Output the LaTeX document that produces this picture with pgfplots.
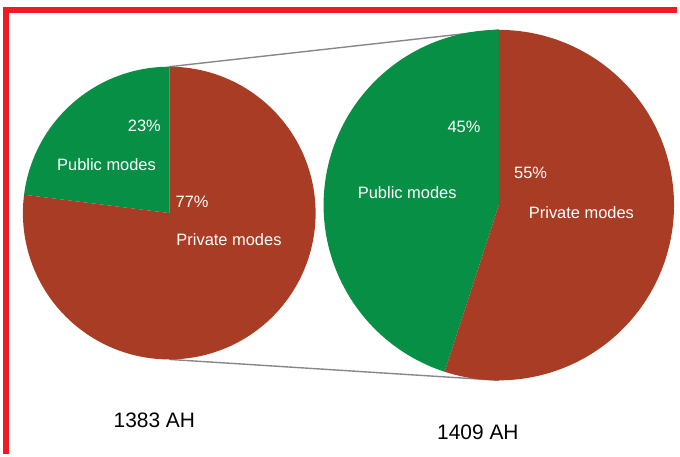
\documentclass[border=0pt]{standalone}
\usepackage{pgfplots}
\pgfplotsset{compat=1.18}
\usepackage{fontspec}
\setmainfont{Liberation Sans}

\definecolor{pubgreen}{RGB}{8,143,70}
\definecolor{privred}{RGB}{168,60,36}
\definecolor{framered}{RGB}{237,28,36}
\definecolor{linkgray}{RGB}{135,135,135}

% share of public modes (percent) in each year
\def\pubA{23}
\def\pubB{45}

\begin{document}
\begin{tikzpicture}[
  lbl/.style={text=white, font=\fontsize{16.5}{18}\selectfont, inner sep=0pt},
  yr/.style={text=black, font=\fontsize{21}{24}\selectfont, inner sep=0pt},
]
\begin{axis}[
  scale only axis, width=680pt, height=456pt,
  xmin=0, xmax=680, ymin=0, ymax=456, y dir=reverse,
  hide axis, clip=false, samples=160,
]
\path (axis cs:0,0) rectangle (axis cs:680,456);

% connecting lines between the two pies
\draw[linkgray, line width=1.4pt] (axis cs:170,67) -- (axis cs:501,30);
\draw[linkgray, line width=1.4pt] (axis cs:170,361) -- (axis cs:501,382);

% 1383 AH pie
\addplot[draw=none, fill=pubgreen, domain=90:{90+3.6*\pubA}]
  ({170+147*cos(x)}, {214-147*sin(x)}) -- (axis cs:170,214) -- cycle;
\addplot[draw=none, fill=privred, domain={90+3.6*\pubA}:450]
  ({170+147*cos(x)}, {214-147*sin(x)}) -- (axis cs:170,214) -- cycle;

% 1409 AH pie
\addplot[draw=none, fill=pubgreen, domain=90:{90+3.6*\pubB}]
  ({501+176*cos(x)}, {206-176*sin(x)}) -- (axis cs:501,206) -- cycle;
\addplot[draw=none, fill=privred, domain={90+3.6*\pubB}:450]
  ({501+176*cos(x)}, {206-176*sin(x)}) -- (axis cs:501,206) -- cycle;

% slice labels
\node[lbl] at (axis cs:145,126) {23\%};
\node[lbl] at (axis cs:107,165) {Public modes};
\node[lbl] at (axis cs:193,203) {77\%};
\node[lbl] at (axis cs:230,241) {Private modes};
\node[lbl] at (axis cs:466,127) {45\%};
\node[lbl] at (axis cs:409,193) {Public modes};
\node[lbl] at (axis cs:533,174) {55\%};
\node[lbl] at (axis cs:584,214) {Private modes};

% years
\node[yr] at (axis cs:155,422) {1383 AH};
\node[yr] at (axis cs:480,434) {1409 AH};

% frame
\draw[framered, line width=6pt] (axis cs:6.5,456) -- (axis cs:6.5,10) -- (axis cs:680,10);
\end{axis}
\end{tikzpicture}
\end{document}
